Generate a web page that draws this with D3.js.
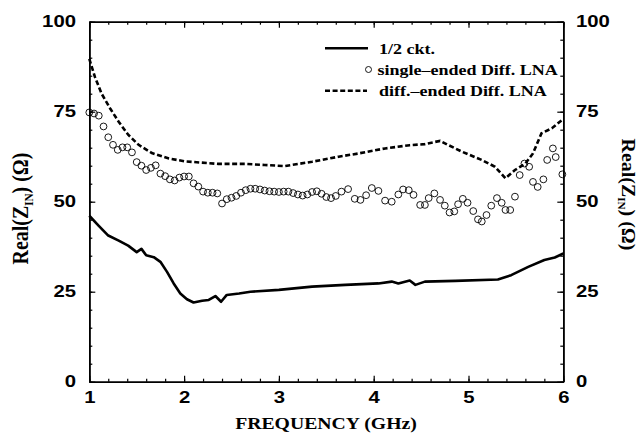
<!DOCTYPE html>
<html>
<head>
<meta charset="utf-8">
<script src="https://cdn.jsdelivr.net/npm/d3@7"></script>
<style>
  body { margin: 0; background: #fff; }
  svg { display: block; }
</style>
</head>
<body>
<svg width="643" height="434"></svg>
<script>
// 1/2 ckt. (solid line)
const freqHalf = [1.00, 1.10, 1.20, 1.31, 1.41, 1.50, 1.55, 1.60, 1.68, 1.75, 1.82, 1.89, 1.96, 2.03, 2.10,
  2.19, 2.26, 2.33, 2.39, 2.45, 2.58, 2.70, 3.00, 3.35, 3.70, 4.05, 4.19, 4.26, 4.38, 4.44, 4.54,
  4.86, 5.31, 5.45, 5.63, 5.80, 5.91, 6.00];
const valHalf = [46.1, 43.3, 40.6, 39.2, 37.8, 36.0, 36.9, 35.1, 34.6, 33.3, 30.5, 27.3, 24.5, 22.9, 22.0,
  22.5, 22.7, 23.8, 22.2, 24.1, 24.5, 25.0, 25.5, 26.4, 26.9, 27.3, 27.8, 27.3, 28.1, 26.9, 27.8,
  28.0, 28.4, 29.6, 31.9, 33.8, 34.5, 35.6];

// single-ended Diff. LNA (circles)
const freqSE = [1.00, 1.05, 1.10, 1.15, 1.20, 1.25, 1.30, 1.35, 1.40, 1.45, 1.50, 1.55, 1.60, 1.65, 1.70,
  1.75, 1.80, 1.85, 1.90, 1.95, 2.00, 2.05, 2.10, 2.15, 2.20, 2.25, 2.30, 2.35, 2.40, 2.45, 2.50,
  2.55, 2.60, 2.65, 2.70, 2.75, 2.80, 2.85, 2.90, 2.95, 3.00, 3.05, 3.10, 3.15, 3.20, 3.25, 3.30,
  3.35, 3.40, 3.45, 3.50, 3.55, 3.60, 3.66, 3.73, 3.80, 3.86, 3.92, 3.98, 4.05, 4.12, 4.19, 4.26,
  4.31, 4.37, 4.42, 4.49, 4.54, 4.58, 4.64, 4.70, 4.75, 4.80, 4.85, 4.89, 4.94, 4.99, 5.05, 5.10,
  5.14, 5.19, 5.24, 5.30, 5.35, 5.39, 5.44, 5.49, 5.54, 5.59, 5.64, 5.68, 5.73, 5.79, 5.83, 5.89,
  5.92, 5.99];
const valSE = [74.8, 74.5, 73.9, 70.9, 67.9, 65.8, 64.4, 65.1, 65.1, 63.7, 61.0, 60.0, 58.8, 59.4, 60.1,
  57.8, 57.1, 56.2, 55.9, 56.7, 57.0, 57.0, 55.1, 54.2, 52.8, 52.5, 52.5, 52.3, 49.5, 50.7, 51.1,
  51.6, 52.5, 53.2, 53.6, 53.6, 53.4, 53.1, 52.9, 52.8, 52.7, 52.8, 52.8, 52.4, 52.0, 51.7, 52.0,
  52.7, 52.9, 52.2, 51.3, 51.0, 51.6, 52.8, 53.5, 50.8, 50.5, 51.8, 53.8, 53.0, 50.3, 50.0, 52.0,
  53.4, 53.2, 51.9, 49.1, 49.1, 51.0, 52.3, 50.5, 48.9, 47.0, 47.3, 49.3, 50.8, 49.7, 47.4, 45.1,
  44.5, 46.3, 48.9, 51.0, 49.7, 47.7, 47.7, 51.4, 57.4, 60.6, 59.7, 55.5, 54.1, 56.2, 61.6, 64.8,
  62.4, 57.6];

// diff.-ended Diff. LNA (dashed line)
const freqDiff = [1.00, 1.06, 1.13, 1.22, 1.31, 1.41, 1.52, 1.66, 1.84, 2.01, 2.36, 2.64, 2.85, 3.06, 3.35,
  3.63, 3.84, 4.12, 4.38, 4.54, 4.70, 4.79, 4.93, 5.14, 5.28, 5.39, 5.49, 5.60, 5.68, 5.77, 5.88, 6.00];
const valDiff = [89.7, 84.6, 80.0, 75.9, 72.2, 68.6, 65.8, 63.5, 62.0, 61.2, 60.5, 60.5, 60.2, 59.9, 61.1,
  62.5, 63.4, 64.8, 65.7, 66.0, 66.9, 65.7, 63.9, 61.6, 59.7, 56.5, 58.8, 60.6, 63.4, 69.0, 70.4, 73.0];

const xTicks = [1, 2, 3, 4, 5, 6];
const yTicks = [0, 25, 50, 75, 100];
const legendLabels = ["1/2 ckt.", "single\u2013ended Diff. LNA", "diff.\u2013ended Diff. LNA"];
const xTitle = "FREQUENCY (GHz)";

const svg = d3.select("svg");
const x = d3.scaleLinear().domain([1, 6]).range([89.3, 563.3]);
const y = d3.scaleLinear().domain([0, 100]).range([381.7, 21.7]);

const sans = "'Liberation Sans', Arial, sans-serif";
const serif = "'Liberation Serif', 'Times New Roman', serif";
const SX = 1.27; // the scanned figure is stretched sideways

const xMinor = d3.range(1, 6.001, 0.2);
const yMinor = d3.range(0, 100.001, 5);

function styleAxis(g) {
    g.select(".domain").attr("stroke-width", 1.6).attr("stroke", "#000");
    g.selectAll(".tick line").attr("stroke-width", 1.2).attr("stroke", "#000");
    g.selectAll("text")
        .attr("font-family", sans)
        .attr("font-weight", "bold")
        .attr("font-size", "16px")
        .attr("fill", "#000")
        .attr("transform", `scale(${SX},1)`);
}

// minor ticks (all four sides)
svg.append("g").attr("transform", `translate(0,${y(0)})`)
    .call(d3.axisBottom(x).tickValues(xMinor).tickSize(-3).tickSizeOuter(0).tickFormat(""))
    .call(styleAxis);
svg.append("g").attr("transform", `translate(0,${y(100)})`)
    .call(d3.axisTop(x).tickValues(xMinor).tickSize(-3).tickSizeOuter(0).tickFormat(""))
    .call(styleAxis);
svg.append("g").attr("transform", `translate(${x(1)},0)`)
    .call(d3.axisLeft(y).tickValues(yMinor).tickSize(-3).tickSizeOuter(0).tickFormat(""))
    .call(styleAxis);
svg.append("g").attr("transform", `translate(${x(6)},0)`)
    .call(d3.axisRight(y).tickValues(yMinor).tickSize(-3).tickSizeOuter(0).tickFormat(""))
    .call(styleAxis);

// major ticks + labels
svg.append("g").attr("transform", `translate(0,${y(0)})`)
    .call(d3.axisBottom(x).tickValues(xTicks).tickSize(-6).tickSizeOuter(0).tickPadding(10.3).tickFormat(d3.format("d")))
    .call(styleAxis);
svg.append("g").attr("transform", `translate(0,${y(100)})`)
    .call(d3.axisTop(x).tickValues(xTicks).tickSize(-6).tickSizeOuter(0).tickFormat(""))
    .call(styleAxis);
svg.append("g").attr("transform", `translate(${x(1)},0)`)
    .call(d3.axisLeft(y).tickValues(yTicks).tickSize(-6).tickSizeOuter(0).tickPadding(10.5).tickFormat(d3.format("d")))
    .call(styleAxis);
svg.append("g").attr("transform", `translate(${x(6)},0)`)
    .call(d3.axisRight(y).tickValues(yTicks).tickSize(-6).tickSizeOuter(0).tickPadding(10).tickFormat(d3.format("d")))
    .call(styleAxis);

// series
const line = d3.line().x(d => x(d[0])).y(d => y(d[1]));

svg.append("path")
    .datum(d3.zip(freqDiff, valDiff))
    .attr("d", line)
    .attr("fill", "none")
    .attr("stroke", "#000")
    .attr("stroke-width", 2.6)
    .attr("stroke-dasharray", "5,2.6");

svg.append("path")
    .datum(d3.zip(freqHalf, valHalf))
    .attr("d", line)
    .attr("fill", "none")
    .attr("stroke", "#000")
    .attr("stroke-width", 2.6)
    .attr("stroke-linejoin", "round");

svg.append("g").selectAll("circle")
    .data(d3.zip(freqSE, valSE))
    .enter()
    .append("circle")
    .attr("cx", d => x(d[0]))
    .attr("cy", d => y(d[1]))
    .attr("r", 3.4)
    .attr("fill", "none")
    .attr("stroke", "#000")
    .attr("stroke-width", 0.9);

// legend
function label(g, tx, ty, str, size, sx) {
    return g.append("text")
        .attr("transform", `translate(${tx},${ty}) scale(${sx},1)`)
        .attr("font-family", serif)
        .attr("font-weight", "bold")
        .attr("font-size", size + "px")
        .attr("fill", "#000")
        .text(str);
}

const legend = svg.append("g");
legend.append("line")
    .attr("x1", 325).attr("x2", 368).attr("y1", 48.3).attr("y2", 48.3)
    .attr("stroke", "#000").attr("stroke-width", 2.6);
label(legend, 379, 53.5, legendLabels[0], 15, 1.2);

legend.append("circle")
    .attr("cx", 368.5).attr("cy", 69.5).attr("r", 3)
    .attr("fill", "none").attr("stroke", "#000").attr("stroke-width", 0.9);
label(legend, 377.5, 74.5, legendLabels[1], 15, 1.2);

legend.append("line")
    .attr("x1", 325).attr("x2", 367).attr("y1", 90.7).attr("y2", 90.7)
    .attr("stroke", "#000").attr("stroke-width", 2.6).attr("stroke-dasharray", "5,2.6");
label(legend, 379, 95.5, legendLabels[2], 15, 1.2);

// x axis title
label(svg, 326, 428.5, xTitle, 17, 1.16).attr("text-anchor", "middle");

// y axis titles (left reads upward, right reads downward)
function yTitle(tx, ty, rot, sx) {
    const t = svg.append("text")
        .attr("transform", `translate(${tx},${ty}) scale(${sx},1) rotate(${rot})`)
        .attr("text-anchor", "middle")
        .attr("font-family", serif)
        .attr("font-weight", "bold")
        .attr("font-size", "18px")
        .attr("fill", "#000")
        .attr("textLength", 112)
        .attr("lengthAdjust", "spacingAndGlyphs");
    t.append("tspan").text("Real(Z");
    t.append("tspan").attr("dy", 4).attr("font-size", "10px").text("IN");
    t.append("tspan").attr("dy", -4).text(") (\u03A9)");
}
yTitle(28, 208.5, -90, 1.25);
yTitle(622, 194.5, 90, 1.1);
</script>
</body>
</html>
